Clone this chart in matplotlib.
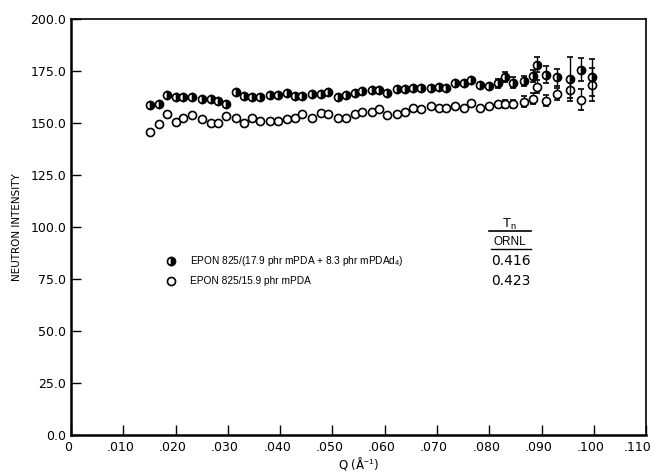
import numpy as np
import matplotlib
matplotlib.use("Agg")
import matplotlib.pyplot as plt
import matplotlib.transforms as mtransforms

# Q values (1/Angstrom), shared by both samples
q = [0.0152, 0.0168, 0.0183, 0.0200, 0.0215, 0.0232, 0.0251, 0.0267, 0.0282, 0.0297,
     0.0316, 0.0330, 0.0347, 0.0362, 0.0381, 0.0396, 0.0413, 0.0429, 0.0442, 0.0461,
     0.0478, 0.0491, 0.0510, 0.0526, 0.0543, 0.0556, 0.0575, 0.0590, 0.0604, 0.0623,
     0.0638, 0.0655, 0.0670, 0.0688, 0.0703, 0.0718, 0.0735, 0.0752, 0.0766, 0.0783,
     0.0800, 0.0817, 0.0830, 0.0846, 0.0867, 0.0884, 0.0891, 0.0909, 0.0930, 0.0954,
     0.0975, 0.0996]

# EPON 825/(17.9 phr mPDA + 8.3 phr mPDAd4)
deut = [158.9, 159.3, 163.6, 162.7, 162.7, 162.7, 161.7, 161.7, 160.8, 159.3,
        165.0, 163.0, 162.7, 162.7, 163.6, 163.6, 164.6, 163.0, 163.0, 164.0,
        164.0, 165.0, 162.7, 163.6, 164.6, 165.5, 166.0, 166.0, 164.6, 166.5,
        166.5, 167.0, 167.0, 167.0, 167.5, 167.0, 169.0, 169.0, 170.8, 168.5,
        168.0, 169.0, 172.0, 169.4, 170.2, 172.7, 178.0, 173.2, 172.0, 171.3,
        175.6, 172.0]
deut_err = [0, 0, 0, 0, 0, 0, 0, 0, 0, 0,
            0, 0, 0, 0, 0, 0, 0, 0, 0, 0,
            0, 0, 0, 0, 0, 0, 0, 0, 0, 0,
            0, 0, 0, 0, 0, 0, 0, 0, 0, 0,
            0, 2.0, 2.5, 2.5, 2.5, 3.0, 3.5, 4.0, 4.0, 10.5,
            5.5, 9.0]

# EPON 825/15.9 phr mPDA
prot = [145.5, 149.3, 154.5, 150.7, 152.6, 154.0, 151.7, 150.2, 150.2, 153.6,
        152.6, 149.8, 152.6, 151.2, 151.2, 151.2, 151.7, 152.6, 154.5, 152.6,
        155.0, 154.5, 152.6, 152.6, 154.5, 155.2, 155.5, 156.5, 154.0, 154.3,
        155.5, 157.0, 156.5, 158.4, 157.4, 157.4, 158.0, 157.4, 159.8, 157.4,
        158.0, 159.3, 159.3, 159.3, 160.3, 161.7, 167.5, 160.8, 164.0, 166.0,
        161.2, 168.4]
prot_err = [0, 0, 0, 0, 0, 0, 0, 0, 0, 0,
            0, 0, 0, 0, 0, 0, 0, 0, 0, 0,
            0, 0, 0, 0, 0, 0, 0, 0, 0, 0,
            0, 0, 0, 0, 0, 0, 0, 0, 0, 0,
            0, 0, 2.0, 2.0, 2.5, 2.5, 3.0, 2.5, 3.0, 4.0,
            5.0, 8.0]

labels = ["EPON 825/(17.9 phr mPDA + 8.3 phr mPDAd$_4$)", "EPON 825/15.9 phr mPDA"]
tn = ["0.416", "0.423"]

xticks = [0, 0.010, 0.020, 0.030, 0.040, 0.050, 0.060, 0.070, 0.080, 0.090, 0.100, 0.110]
xticklabels = ["0", ".010", ".020", ".030", ".040", ".050", ".060", ".070", ".080", ".090", ".100", ".110"]
yticks = [0, 25, 50, 75, 100, 125, 150, 175, 200]

plt.rcParams['font.family'] = ['DejaVu Sans']
plt.rcParams['mathtext.fontset'] = 'custom'
plt.rcParams['mathtext.rm'] = 'Liberation Sans'
plt.rcParams['mathtext.it'] = 'Liberation Sans'
lib = ['Liberation Sans', 'DejaVu Sans']

fig = plt.figure(figsize=(6.55, 4.73), dpi=100)
ax = fig.add_axes([0.1084, 0.0803, 0.878, 0.8795])

ax.errorbar(q, prot, yerr=prot_err, fmt='o', ms=5.8, mfc='white', mec='black', mew=1.2,
            ecolor='black', elinewidth=1.0, capsize=2.5, zorder=3)
ax.errorbar(q, deut, yerr=deut_err, fmt='o', ms=5.8, mfc='black', mec='black', mew=1.2,
            fillstyle='right', markerfacecoloralt='white',
            ecolor='black', elinewidth=1.0, capsize=2.5, zorder=4)

# legend drawn by hand, like the original
ax.plot([0.0192], [83.6], 'o', ms=5.8, mfc='black', mec='black', mew=1.2,
        fillstyle='right', markerfacecoloralt='white')
ax.plot([0.0192], [74.0], 'o', ms=5.8, mfc='white', mec='black', mew=1.2)
ax.text(0.0227, 83.6, labels[0], fontsize=7.3, family=lib, va='center', ha='left')
ax.text(0.0227, 74.0, labels[1], fontsize=7.3, family=lib, va='center', ha='left')

ax.text(0.0838, 101.0, "T$_\\mathregular{n}$", fontsize=9.5, family=lib, ha='center', va='center')
ax.plot([0.0800, 0.0880], [98.0, 98.0], color='black', lw=1.2)
ax.text(0.0840, 93.0, "ORNL", fontsize=8.5, family=lib, ha='center', va='center')
ax.plot([0.0804, 0.0880], [89.5, 89.5], color='black', lw=1.0)
ax.text(0.0803, 83.6, tn[0], fontsize=10, ha='left', va='center')
ax.text(0.0803, 74.0, tn[1], fontsize=10, ha='left', va='center')

ax.set_xlim(0, 0.110)
ax.set_ylim(0, 200)
ax.set_xticks(xticks)
ax.set_xticklabels(xticklabels, fontsize=9)
ax.set_yticks(yticks)
ax.set_yticklabels(["%.1f" % v for v in yticks], fontsize=9)
ax.tick_params(direction='in', length=7, width=1.0, top=False, right=False)
ax.tick_params(axis='x', pad=4)
shift = mtransforms.ScaledTranslation(-3 / 100, 0, fig.dpi_scale_trans)
xlabs = ax.get_xticklabels()
for lab in xlabs:
    lab.set_transform(lab.get_transform() + shift)
xlabs[-1].set_horizontalalignment('right')
xlabs[-1].set_transform(xlabs[-1].get_transform()
                        + mtransforms.ScaledTranslation(8 / 100, 0, fig.dpi_scale_trans))
for s in ax.spines.values():
    s.set_linewidth(1.2)
ax.spines['left'].set_linewidth(1.8)
ax.spines['bottom'].set_linewidth(1.8)

ax.set_xlabel("Q (Å$^{-1}$)", fontsize=8.5, labelpad=1)
ax.set_ylabel("NEUTRON INTENSITY", fontsize=7.5, labelpad=6)

fig.savefig("out.png", dpi=100)
